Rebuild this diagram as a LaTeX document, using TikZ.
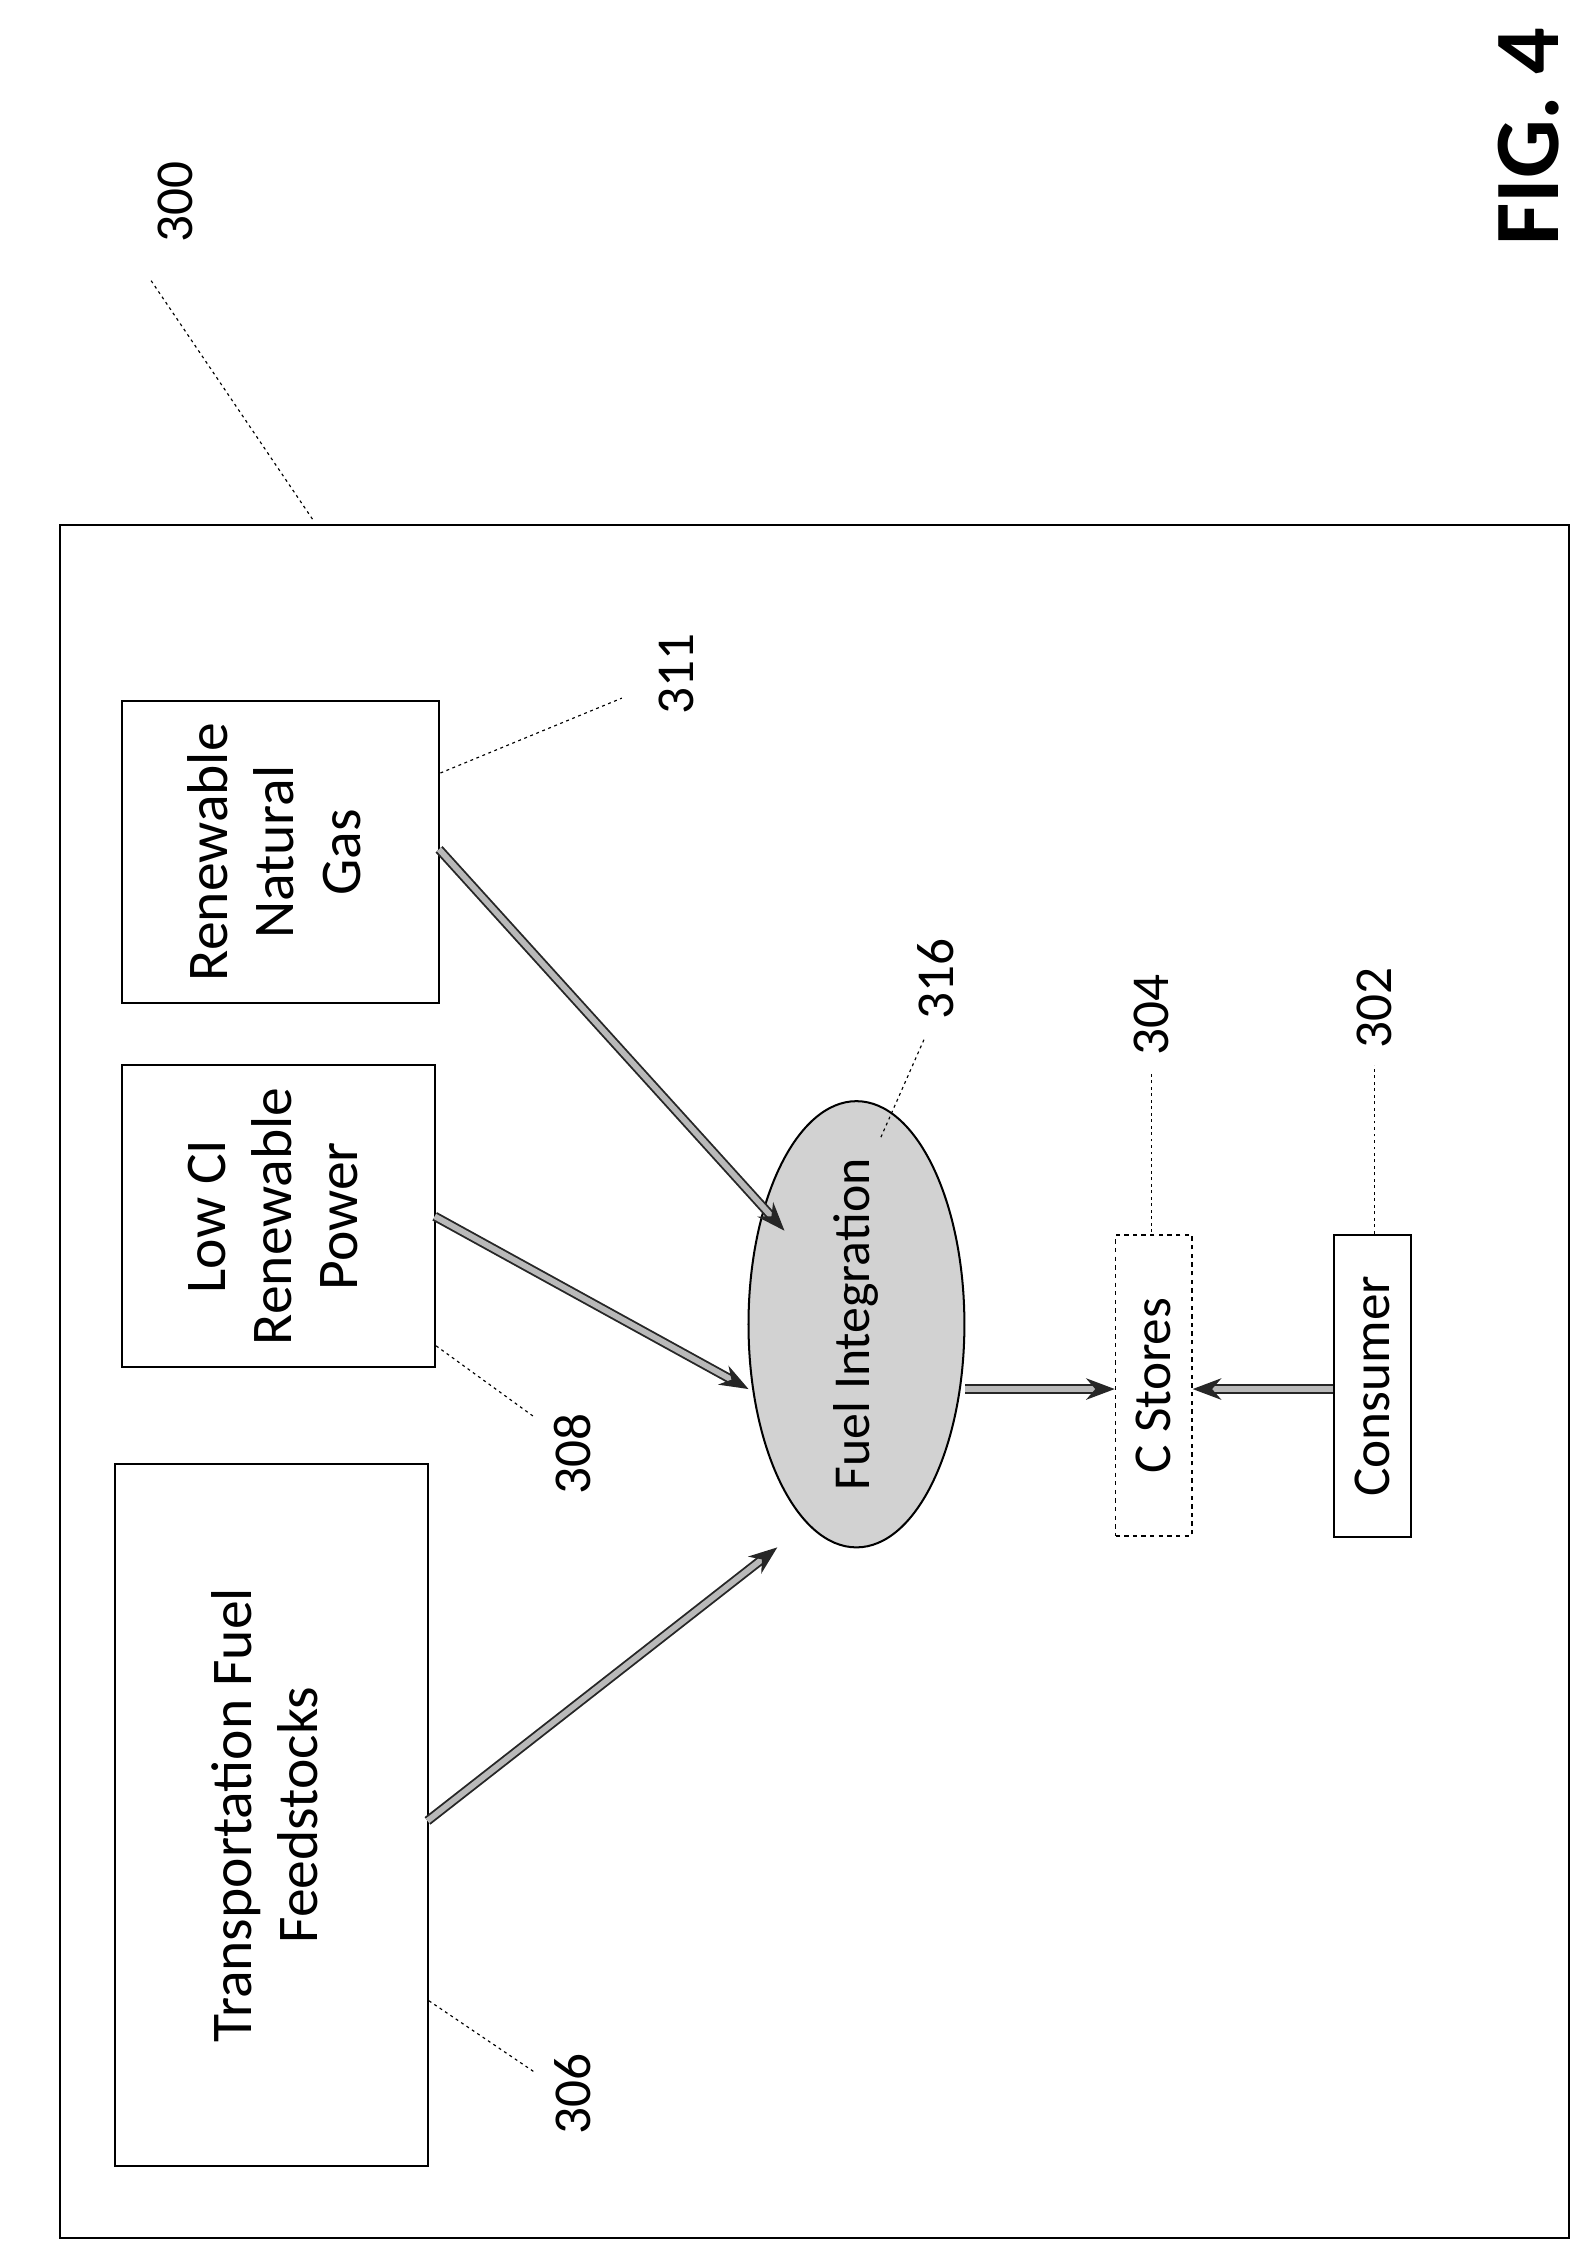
\documentclass[tikz,border=0pt]{standalone}
\usepackage{fontspec}
\setmainfont{Carlito}
\usetikzlibrary{shapes.geometric,arrows.meta}
\begin{document}
\begin{tikzpicture}[x=1pt,y=-1pt,
  box/.style={draw,line width=1.4pt,inner sep=0pt,font=\fontsize{40}{46}\selectfont,align=center},
  lab/.style={font=\fontsize{37}{40}\selectfont,rotate=90},
  lead/.style={dash pattern=on 2pt off 2.5pt,line width=0.8pt},
  arr/.style={draw=black!85,double=gray!55,double distance=4pt,line width=1.3pt,-{Stealth[length=20pt,width=15pt]}}]
\useasboundingbox (0,0) rectangle (1108,1568);
\node[draw,line width=1.4pt,minimum width=1048pt,minimum height=1190pt,inner sep=0pt] (frame) at (566,960) {};
\node[box,minimum width=217pt,minimum height=488pt] (tff) at (188.5,1261) {\rotatebox{90}{\begin{tabular}{c}Transportation Fuel\\Feedstocks\end{tabular}}};
\node[box,minimum width=217pt,minimum height=210pt] (lci) at (193.5,845) {\rotatebox{90}{\begin{tabular}{c}Low CI\\Renewable\\Power\end{tabular}}};
\node[box,minimum width=220pt,minimum height=210pt] (rng) at (195,592) {\rotatebox{90}{\begin{tabular}{c}Renewable\\Natural\\Gas\end{tabular}}};
\node[ellipse,draw,line width=1.4pt,fill=gray!35,minimum width=150pt,minimum height=310pt,inner sep=0pt] (fi) at (595,920) {};
\node[rotate=90,font=\fontsize{36}{40}\selectfont] at (fi) {Fuel Integration};
\node[draw,dashed,line width=1.1pt,minimum width=53pt,minimum height=209pt,inner sep=0pt] (cs) at (801.5,962.5) {};
\node[rotate=90,font=\fontsize{37}{40}\selectfont] at (cs) {C Stores};
\node[draw,line width=1.4pt,minimum width=53pt,minimum height=210pt,inner sep=0pt] (con) at (953.5,963) {};
\node[rotate=90,font=\fontsize{37}{40}\selectfont] at (con) {Consumer};
\coordinate (a1) at (297,1265); \coordinate (a1e) at (540,1075);
\coordinate (a2) at (302,845); \coordinate (a2e) at (520,965);
\coordinate (a3) at (305,590); \coordinate (a3e) at (545,855);
\draw[arr] (a1) -- (a1e);
\draw[arr] (a2) -- (a2e);
\draw[arr] (a3) -- (a3e);
\draw[arr] (fi.east |- 0,965) -- (cs.west |- 0,965);
\draw[arr] (con.west |- 0,965) -- (cs.east |- 0,965);
\node[lab] (l300) at (122,140) {300};
\node[lab] (l311) at (470,468) {311};
\node[lab] (l316) at (650,680) {316};
\node[lab] (l304) at (800,705) {304};
\node[lab] (l302) at (955,700) {302};
\node[lab] (l308) at (398,1010) {308};
\node[lab] (l306) at (398,1455) {306};
\node[rotate=90,font=\bfseries\fontsize{64}{70}\selectfont] (fig) at (1062,95) {FIG. 4};
\draw[lead] (105,195) -- (218,362);
\draw[lead] (306,537) -- (432,485);
\draw[lead] (612,790) -- (642,722);
\draw[lead] (800,856) -- (800,745);
\draw[lead] (955,857) -- (955,740);
\draw[lead] (303,935) -- (372,985);
\draw[lead] (298,1390) -- (372,1440);
\end{tikzpicture}
\end{document}
